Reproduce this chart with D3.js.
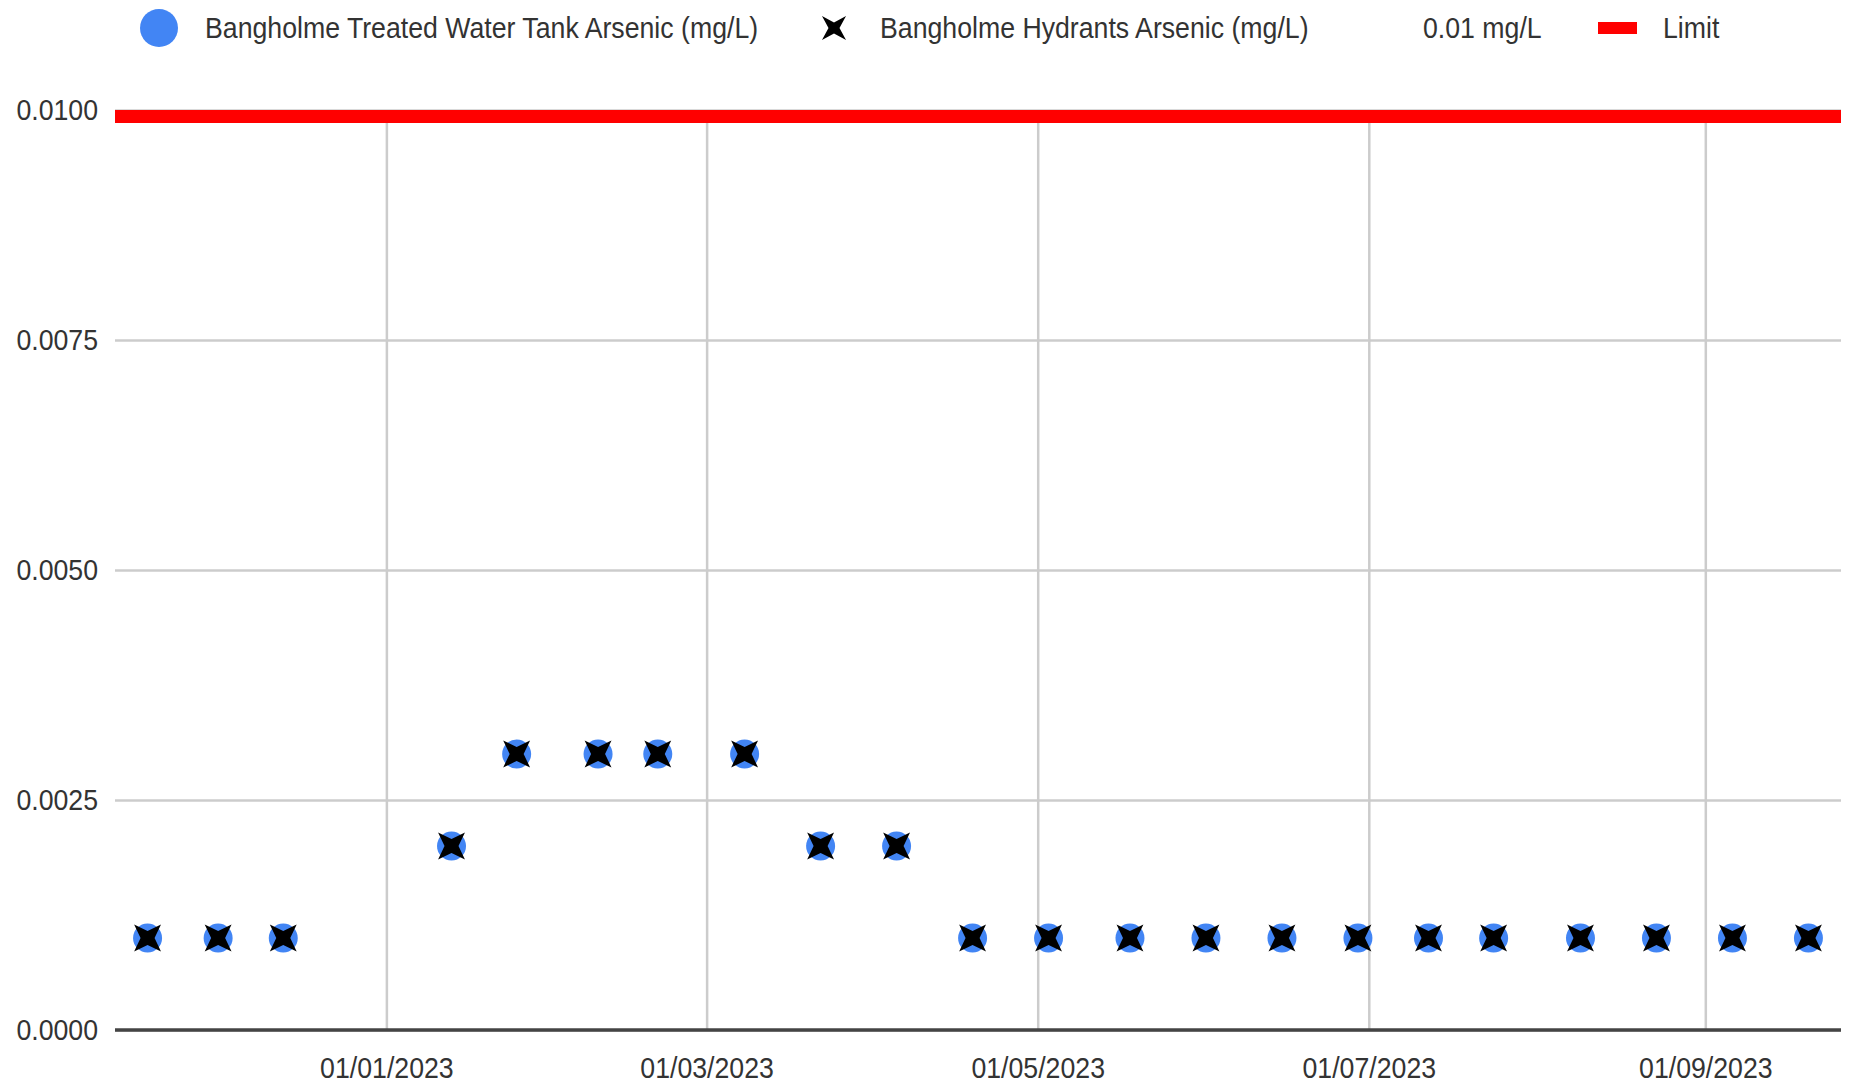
<!DOCTYPE html>
<html>
<head>
<meta charset="utf-8">
<script src="https://cdn.jsdelivr.net/npm/d3@7"></script>
<style>
  html, body { margin: 0; padding: 0; background: #fff; }
  svg { display: block; }
  text { font-family: "Liberation Sans", Arial, sans-serif; fill: #333; }
</style>
</head>
<body>
<svg id="chart" width="1849" height="1086"></svg>
<script>
// ---- data ----
const sampleDates = [
  "2022-11-18", "2022-12-01", "2022-12-13", "2023-01-13", "2023-01-25",
  "2023-02-09", "2023-02-20", "2023-03-08", "2023-03-22", "2023-04-05",
  "2023-04-19", "2023-05-03", "2023-05-18", "2023-06-01", "2023-06-15",
  "2023-06-29", "2023-07-12", "2023-07-24", "2023-08-09", "2023-08-23",
  "2023-09-06", "2023-09-20"
];
const tankArsenic = [
  0.001, 0.001, 0.001, 0.002, 0.003,
  0.003, 0.003, 0.003, 0.002, 0.002,
  0.001, 0.001, 0.001, 0.001, 0.001,
  0.001, 0.001, 0.001, 0.001, 0.001,
  0.001, 0.001
];
const hydrantArsenic = [
  0.001, 0.001, 0.001, 0.002, 0.003,
  0.003, 0.003, 0.003, 0.002, 0.002,
  0.001, 0.001, 0.001, 0.001, 0.001,
  0.001, 0.001, 0.001, 0.001, 0.001,
  0.001, 0.001
];
const limitValue = 0.01;
const xDomain = ["2022-11-12", "2023-09-26"];
const xTickDates = ["2023-01-01", "2023-03-01", "2023-05-01", "2023-07-01", "2023-09-01"];
const yTicks = [0, 0.0025, 0.005, 0.0075, 0.01];
const legendLabels = [
  "Bangholme Treated Water Tank Arsenic (mg/L)",
  "Bangholme Hydrants Arsenic (mg/L)",
  "0.01 mg/L",
  "Limit"
];

// ---- layout ----
const W = 1849, H = 1086;
const plot = { left: 115, right: 1841, top: 110, bottom: 1030 };
const squeeze = 0.92;
const fontSize = 29;

const parse = d3.timeParse("%Y-%m-%d");
const fmt = d3.timeFormat("%d/%m/%Y");

const x = d3.scaleTime().domain(xDomain.map(parse)).range([plot.left, plot.right]);
const y = d3.scaleLinear().domain([0, 0.01]).range([plot.bottom, plot.top]);

const svg = d3.select("#chart");

function condense(sel) {
  sel.each(function () {
    const len = this.getComputedTextLength();
    d3.select(this).attr("textLength", len * squeeze).attr("lengthAdjust", "spacingAndGlyphs");
  });
}

// star "X" marker path
function starPath(R, r) {
  const pts = [];
  for (let i = 0; i < 8; i++) {
    const a = Math.PI / 4 + i * Math.PI / 4;
    const rad = i % 2 === 0 ? R : r;
    pts.push([Math.cos(a) * rad, Math.sin(a) * rad]);
  }
  return "M" + pts.map(p => p.join(",")).join("L") + "Z";
}

// clip
svg.append("clipPath").attr("id", "plotClip").append("rect")
  .attr("x", plot.left).attr("y", plot.top)
  .attr("width", plot.right - plot.left).attr("height", plot.bottom - plot.top);

// horizontal gridlines
const yAxis = d3.axisLeft(y).tickValues(yTicks)
  .tickSize(-(plot.right - plot.left)).tickPadding(17)
  .tickFormat(d3.format(".4f"));
const gy = svg.append("g").attr("transform", `translate(${plot.left},0)`).call(yAxis);
gy.select(".domain").remove();
gy.selectAll(".tick line").attr("stroke", "#cccccc").attr("stroke-width", 2.5);
gy.selectAll(".tick text").attr("font-size", fontSize).attr("fill", "#3a3a3a")
  .style("font-family", "'Liberation Sans', Arial, sans-serif").call(condense);

// vertical gridlines + x labels
const xAxis = d3.axisBottom(x).tickValues(xTickDates.map(parse))
  .tickSize(-(plot.bottom - plot.top)).tickPadding(27).tickFormat(fmt);
const gx = svg.append("g").attr("transform", `translate(0,${plot.bottom})`).call(xAxis);
gx.select(".domain").remove();
gx.selectAll(".tick line").attr("stroke", "#cccccc").attr("stroke-width", 2.5);
gx.selectAll(".tick text").attr("font-size", fontSize).attr("fill", "#3a3a3a")
  .style("font-family", "'Liberation Sans', Arial, sans-serif").call(condense);

// baseline
svg.append("line")
  .attr("x1", plot.left).attr("x2", plot.right)
  .attr("y1", y(0)).attr("y2", y(0))
  .attr("stroke", "#444").attr("stroke-width", 3.3);

// limit line (clipped to plot area)
svg.append("line")
  .attr("clip-path", "url(#plotClip)")
  .attr("x1", plot.left).attr("x2", plot.right)
  .attr("y1", y(limitValue)).attr("y2", y(limitValue))
  .attr("stroke", "#ff0000").attr("stroke-width", 26);

// tank points
svg.append("g").selectAll("circle")
  .data(sampleDates.map((d, i) => ({ date: parse(d), v: tankArsenic[i] })))
  .join("circle")
  .attr("cx", d => x(d.date)).attr("cy", d => y(d.v))
  .attr("r", 14.5).attr("fill", "#4285f4");

// hydrant markers
const star = starPath(19, 7);
svg.append("g").selectAll("path")
  .data(sampleDates.map((d, i) => ({ date: parse(d), v: hydrantArsenic[i] })))
  .join("path")
  .attr("d", star)
  .attr("transform", d => `translate(${x(d.date)},${y(d.v)})`)
  .attr("fill", "#000");

// legend
const leg = svg.append("g");
const legY = 28;
const legFill = "#3a3a3a";
leg.append("circle").attr("cx", 159).attr("cy", legY).attr("r", 19).attr("fill", "#4285f4");
leg.append("text").attr("x", 205).attr("y", legY).attr("dy", "0.35em").attr("fill", legFill)
  .attr("font-size", fontSize).text(legendLabels[0]).call(condense);
leg.append("path").attr("d", starPath(17, 5.5)).attr("transform", `translate(834,${legY})`).attr("fill", "#000");
leg.append("text").attr("x", 880).attr("y", legY).attr("dy", "0.35em").attr("fill", legFill)
  .attr("font-size", fontSize).text(legendLabels[1]).call(condense);
leg.append("text").attr("x", 1423).attr("y", legY).attr("dy", "0.35em").attr("fill", legFill)
  .attr("font-size", fontSize).text(legendLabels[2]).call(condense);
leg.append("rect").attr("x", 1598).attr("y", legY - 6).attr("width", 39).attr("height", 12).attr("fill", "#ff0000");
leg.append("text").attr("x", 1663).attr("y", legY).attr("dy", "0.35em").attr("fill", legFill)
  .attr("font-size", fontSize).text(legendLabels[3]).call(condense);
</script>
</body>
</html>
